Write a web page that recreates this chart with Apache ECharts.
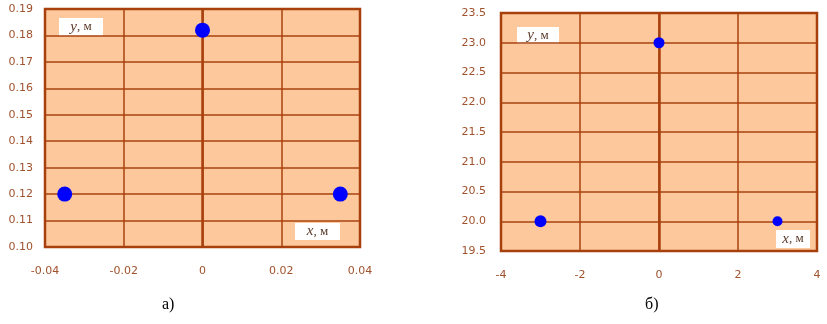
<!DOCTYPE html>
<html><head><meta charset="utf-8">
<script src="https://cdn.jsdelivr.net/npm/echarts@6/dist/echarts.min.js"></script>
<style>html,body{margin:0;padding:0;background:#fff}#c{width:827px;height:324px}</style>
</head><body><div id="c"></div>
<script>
// Chart a)
const pointsA_x = [-0.035, 0, 0.035];
const pointsA_y = [0.12, 0.182, 0.12];
const sizesA = [15, 15, 15];
// Chart б)
const pointsB_x = [-3, 0, 3];
const pointsB_y = [20, 23, 20];
const sizesB = [12, 11, 10];
const axisA = {xmin: -0.04, xmax: 0.04, xstep: 0.02, ymin: 0.10, ymax: 0.19, ystep: 0.01};
const axisB = {xmin: -4, xmax: 4, xstep: 2, ymin: 19.5, ymax: 23.5, ystep: 0.5};
const captions = ['а)', 'б)'];
const axisVars = ['y', 'x'];
const axisUnit = ', м';

const brown = '#A8400F', tick = '#A0522D';
const fill = '#FDC99C';
const chart = echarts.init(document.getElementById('c'));
function xAx(i, a, fmt) {
  return {gridIndex: i, type: 'value', min: a.xmin, max: a.xmax, interval: a.xstep,
    axisLine: {show: false}, axisTick: {show: false},
    splitLine: {show: true, lineStyle: {color: brown, width: 1.5}},
    axisLabel: {color: tick, fontFamily: 'DejaVu Sans', fontSize: 11, margin: 19, formatter: fmt}};
}
function yAx(i, a, fmt, m) {
  return {gridIndex: i, type: 'value', min: a.ymin, max: a.ymax, interval: a.ystep,
    axisLine: {show: false}, axisTick: {show: false},
    splitLine: {show: true, lineStyle: {color: brown, width: 1.5}},
    axisLabel: {color: tick, fontFamily: 'DejaVu Sans', fontSize: 11, margin: m, formatter: fmt}};
}
function zeroLine() {
  return {silent: true, symbol: 'none', label: {show: false},
    lineStyle: {color: brown, width: 2.5, type: 'solid'}, data: [{xAxis: 0}]};
}
function box(x, y, w, h, v) {
  return {type: 'group', left: x, top: y, children: [
    {type: 'rect', shape: {x: 0, y: 0, width: w, height: h}, style: {fill: '#fff'}},
    {type: 'text', x: w / 2, y: h / 2, style: {text: '{i|' + v + '}{n|' + axisUnit + '}',
      align: 'center', verticalAlign: 'middle',
      rich: {i: {fill: '#5a3a2a', font: 'italic 15px "Liberation Serif"'},
             n: {fill: '#5a3a2a', font: '13px "Liberation Serif"'}}}}
  ]};
}
chart.setOption({
  animation: false,
  grid: [
    {left: 45, top: 9, width: 315, height: 238, show: true, backgroundColor: fill, borderColor: brown, borderWidth: 2.5},
    {left: 501, top: 13, width: 316, height: 238, show: true, backgroundColor: fill, borderColor: brown, borderWidth: 2.5}
  ],
  xAxis: [
    xAx(0, axisA, v => v === 0 ? '0' : v.toFixed(2)),
    xAx(1, axisB, v => String(v))
  ],
  yAxis: [
    yAx(0, axisA, v => v.toFixed(2), 12),
    yAx(1, axisB, v => v.toFixed(1), 15)
  ],
  series: [
    {type: 'scatter', xAxisIndex: 0, yAxisIndex: 0, z: 5,
      data: pointsA_x.map((x, i) => ({value: [x, pointsA_y[i]], symbolSize: sizesA[i]})),
      itemStyle: {color: '#0000FF', opacity: 1}, markLine: zeroLine()},
    {type: 'scatter', xAxisIndex: 1, yAxisIndex: 1, z: 5,
      data: pointsB_x.map((x, i) => ({value: [x, pointsB_y[i]], symbolSize: sizesB[i]})),
      itemStyle: {color: '#0000FF', opacity: 1}, markLine: zeroLine()}
  ],
  graphic: [
    box(59, 18, 44, 18, axisVars[0]),
    box(295, 223, 45, 17, axisVars[1]),
    box(517, 27, 42, 17, axisVars[0]),
    box(776, 230, 34, 18, axisVars[1]),
    {type: 'text', left: 162, top: 297, style: {text: captions[0], fill: '#000', font: '16px "Liberation Serif"'}},
    {type: 'text', left: 645, top: 297, style: {text: captions[1], fill: '#000', font: '16px "Liberation Serif"'}}
  ]
});
</script></body></html>
